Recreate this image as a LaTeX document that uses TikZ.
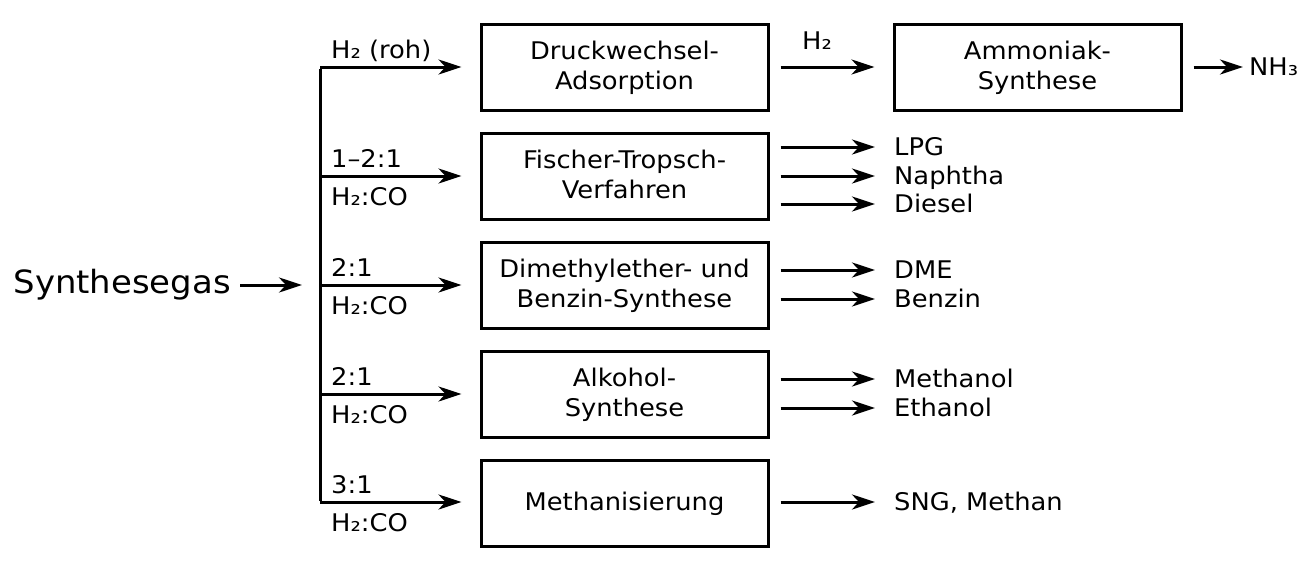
\documentclass[tikz,border=0pt]{standalone}
\usepackage{fontspec}
\setmainfont{DejaVu Sans}[FakeStretch=1.06]
\usetikzlibrary{arrows.meta,positioning}
\begin{document}
\begin{tikzpicture}[x=1pt,y=-1pt,
  every node/.style={font=\fontsize{24.3}{30}\selectfont},
  procbox/.style={draw,line width=3pt,minimum width=287pt,minimum height=86pt,align=center,inner sep=0pt,text height=50pt,text depth=6pt},
  onebox/.style={procbox,text height=21.7pt,text depth=6pt},
  outlbl/.style={anchor=west,inner sep=4pt,text height=19pt,text depth=1.3pt},
  conn/.style={line width=3pt},
  arr/.style={line width=3pt,-{Stealth[length=23pt,width=15pt,inset=7pt]}},
  ratio/.style={inner sep=2pt,text height=19pt,text depth=6pt}
]
\useasboundingbox (0,0) rectangle (1312,562);
% main source
\node[anchor=east,inner sep=3pt,font=\fontsize{32}{40}\selectfont] (syn) at (234,285) {Synthesegas};
\coordinate (jct) at (320,285);
\coordinate (top) at (320,67);
\coordinate (bot) at (320,502);
% boxes
\node[procbox] (b1) at (624.5,67) {Druckwechsel-\\Adsorption};
\node[procbox] (b2) at (624.5,176) {Fischer-Tropsch-\\Verfahren};
\node[procbox] (b3) at (624.5,285) {Dimethylether- und\\Benzin-Synthese};
\node[procbox] (b4) at (624.5,394) {Alkohol-\\Synthese};
\node[onebox] (b5) at (624.5,503) {Methanisierung};
\node[procbox] (b6) at (1037.5,67) {Ammoniak-\\Synthese};
% branch coordinates
\coordinate (r1) at (320,67);
\coordinate (r2) at (320,176);
\coordinate (r3) at (320,285);
\coordinate (r4) at (320,394);
\coordinate (r5) at (320,502);
% source arrow and trunk
\draw[arr] (syn.east) ++(6,0) -- ([xshift=-18pt]jct);
\draw[conn] ([yshift=-1.5pt]top) -- ([yshift=1.5pt]bot);
% branches
\foreach \i in {1,...,5}{
  \draw[arr] (r\i) -- ([xshift=-18pt]r\i -| b\i.west);
}
% ratio labels
\node[ratio,anchor=south west] (l1) at (329,67) {H₂ (roh)};
\node[ratio,anchor=south west] (l2a) at (329,176) {1–2:1};
\node[ratio,anchor=north west] (l2b) at (329,184) {H₂:CO};
\node[ratio,anchor=south west] (l3a) at (329,285) {2:1};
\node[ratio,anchor=north west] (l3b) at (329,293) {H₂:CO};
\node[ratio,anchor=south west] (l4a) at (329,394) {2:1};
\node[ratio,anchor=north west] (l4b) at (329,402) {H₂:CO};
\node[ratio,anchor=south west] (l5a) at (329,502) {3:1};
\node[ratio,anchor=north west] (l5b) at (329,510) {H₂:CO};
% PSA to ammonia
\draw[arr] ([xshift=11pt]b1.east) -- ([xshift=-18pt]b6.west);
\node[ratio,anchor=south] (h2) at (817,58) {H₂};
% outputs
\node[outlbl] (nh3) at (1245,67) {NH₃};
\draw[arr] ([xshift=11pt]b6.east) -- ([xshift=-2pt]nh3.west);
\node[outlbl] (lpg) at (890,147) {LPG};
\node[outlbl] (nap) at (890,176) {Naphtha};
\node[outlbl] (die) at (890,204) {Diesel};
\node[outlbl] (dme) at (890,270) {DME};
\node[outlbl] (ben) at (890,299) {Benzin};
\node[outlbl] (meo) at (890,379) {Methanol};
\node[outlbl] (eto) at (890,408) {Ethanol};
\node[outlbl] (sng) at (890,502) {SNG, Methan};
\foreach \b/\o in {b2/lpg,b2/nap,b2/die,b3/dme,b3/ben,b4/meo,b4/eto,b5/sng}{
  \draw[arr] ([xshift=11pt]\b.east |- \o.west) -- ([xshift=-15pt]\o.west);
}
\end{tikzpicture}
\end{document}
